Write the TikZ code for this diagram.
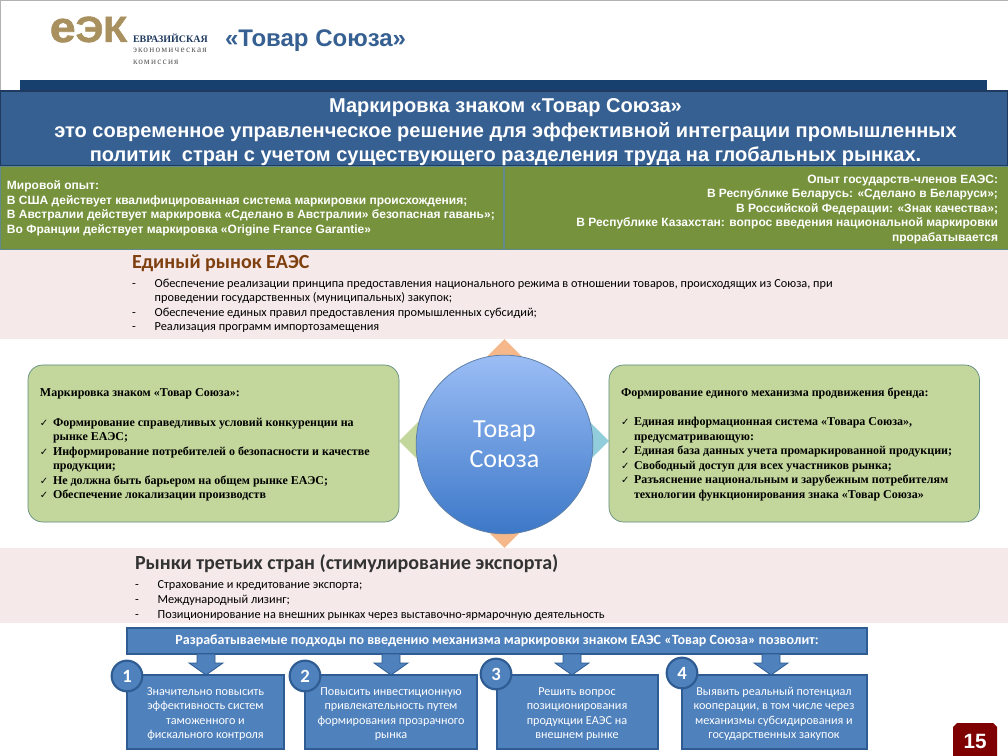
\documentclass[tikz,border=0pt]{standalone}
\usepackage{fontspec}
\setmainfont{Liberation Serif}
\newfontfamily\arialf{Liberation Sans}
\newfontfamily\calib{Carlito}
\newfontfamily\dejav{DejaVu Sans}
\newfontfamily\logof[FakeBold=1.5]{Liberation Sans}
\newfontfamily\spacedserif[LetterSpace=13]{Liberation Serif}
\usetikzlibrary{shapes.geometric}
\definecolor{bandblue}{HTML}{17406F}
\definecolor{headblue}{HTML}{366092}
\definecolor{headedge}{HTML}{1F3A5F}
\definecolor{olive}{HTML}{76923C}
\definecolor{oliveedge}{HTML}{5F8A8F}
\definecolor{pinkband}{HTML}{F5E9E9}
\definecolor{leaf}{HTML}{C3D69B}
\definecolor{leafedge}{HTML}{5F8A80}
\definecolor{midblue}{HTML}{4F81BD}
\definecolor{midedge}{HTML}{2F5C92}
\definecolor{tan}{HTML}{A8915F}
\definecolor{brownhead}{HTML}{7F4010}
\definecolor{pagered}{HTML}{7F0000}
\definecolor{peach}{HTML}{F6B88A}
\definecolor{teal}{HTML}{92CDDC}
\definecolor{circtop}{HTML}{9BBDF5}
\definecolor{circbot}{HTML}{3C78C8}
\newcommand{\ck}{\makebox[9.75pt][l]{\dejav\fontsize{7.5}{7.5}\selectfont ✓}}
\newcommand{\hg}{\hspace*{9.75pt}}
\newcommand{\dsh}{\makebox[17pt][l]{-}}
\newcommand{\blockarrow}[1]{\draw[blockarrow,shift={(#1,654)}] (-9,0) -- (9,0) -- (9,9) -- (17,9) -- (0,21) -- (-17,9) -- (-9,9) -- cycle;}
\tikzset{
  lbl/.style={inner sep=0pt,outer sep=0pt},
  head/.style={lbl,align=center,text=white,font=\arialf\bfseries\fontsize{15.03}{18.4}\selectfont},
  olivetxt/.style={lbl,text=white,font=\arialf\bfseries\fontsize{9}{10.9}\selectfont},
  olivebox/.style={draw=oliveedge,line width=.7pt,fill=olive},
  pinkbox/.style={fill=pinkband},
  rndbox/.style={draw=leafedge,line width=.5pt,fill=leaf,rounded corners=11pt},
  rndtxt/.style={lbl,align=left,anchor=north west,font=\bfseries\fontsize{9}{10.9}\selectfont,text=black},
  lst/.style={lbl,align=left,anchor=north west,font=\calib\fontsize{9.22}{10.9}\selectfont,text=black},
  dia/.style={diamond,aspect=1,inner sep=0pt,minimum size=50pt},
  bluebox/.style={draw=midedge,line width=.9pt,fill=midblue},
  bluetxt/.style={lbl,align=center,text=white,font=\calib\fontsize{9.13}{10.9}\selectfont},
  numcirc/.style={circle,draw=midedge,line width=1.6pt,fill=midblue,minimum size=23pt,inner sep=0pt,text=white,font=\calib\bfseries\fontsize{14}{14}\selectfont},
  blockarrow/.style={draw=midedge,line width=.6pt,fill=midblue},
}
\begin{document}
\begin{tikzpicture}[x=.75pt,y=-.75pt]
\useasboundingbox (0,0) rectangle (1008,756);
\fill[white] (0,0) rectangle (1008,756);
\draw[black!30,line width=.75pt] (0.5,91) -- (0.5,0.5) -- (1008,0.5);
% logo
\node[lbl,anchor=center,text=tan] (logomark) at (88.5,29.5) {\resizebox{58pt}{19pt}{\logof\bfseries\fontsize{8.8}{10}\selectfont е\fontsize{7.4}{8}\selectfont ЭК}};
\node[lbl,anchor=west,text=headedge,font=\bfseries\fontsize{7.5}{8}\selectfont] (logoa) at (133,38) {ЕВРАЗИЙСКАЯ};
\node[lbl,anchor=west,text=black!65,font=\spacedserif\fontsize{7}{8}\selectfont] (logob) at (133,50) {экономическая};
\node[lbl,anchor=west,text=black!65,font=\spacedserif\fontsize{7}{8}\selectfont] (logoc) at (133,62) {комиссия};
\node[lbl,anchor=west,text=headblue,font=\arialf\bfseries\fontsize{18}{20}\selectfont] (title) at (225,41) {«Товар Союза»};
% header
\fill[bandblue] (20,80) rectangle (987,91);
\draw[headedge,line width=.9pt,fill=headblue] (0,91) rectangle (1008,166);
\node[head] (headtxt) at (505.5,132.5) {Маркировка знаком «Товар Союза»\\это современное управленческое решение для эффективной интеграции промышленных\\политик\ \ стран с учетом существующего разделения труда на глобальных рынках.};
% olive boxes
\draw[olivebox] (0,166) rectangle (503,249);
\draw[olivebox] (504,166) rectangle (1008,249);
\node[olivetxt,anchor=north west,align=left] (oleft) at (7,181) {Мировой опыт:\\В США действует квалифицированная система маркировки происхождения;\\В Австралии действует маркировка «Сделано в Австралии» безопасная гавань»;\\Во Франции действует маркировка «Origine France Garantie»};
\node[olivetxt,anchor=north east,align=right] (oright) at (998,175) {Опыт государств-членов ЕАЭС:\\В Республике Беларусь: «Сделано в Беларуси»;\\В Российской Федерации: «Знак качества»;\\В Республике Казахстан: вопрос введения национальной маркировки\\прорабатывается};
% pink 1
\fill[pinkbox] (0,250) rectangle (1008,339);
\node[lbl,anchor=west,text=brownhead,font=\calib\bfseries\fontsize{15}{17}\selectfont] (p1head) at (132,263) {Единый рынок ЕАЭС};
\node[lst] (p1list) at (132,279) {\dsh Обеспечение реализации принципа предоставления национального режима в отношении товаров, происходящих из Союза, при\\
\hspace*{17pt}проведении государственных (муниципальных) закупок;\\
\dsh Обеспечение единых правил предоставления промышленных субсидий;\\
\dsh Реализация программ импортозамещения};
% pink 2
\fill[pinkbox] (0,548) rectangle (1008,623);
\node[lbl,anchor=west,text=black!80,font=\calib\bfseries\fontsize{15}{17}\selectfont] (p2head) at (135,564) {Рынки третьих стран (стимулирование экспорта)};
\node[lst] (p2list) at (135,581) {\dsh Страхование и кредитование экспорта;\\
\dsh Международный лизинг;\\
\dsh Позиционирование на внешних рынках через выставочно-ярмарочную деятельность};
% diamonds
\node[dia,fill=peach,minimum size=37.5pt] (dtop) at (504.5,364) {};
\node[dia,fill=peach,minimum size=37.5pt] (dbot) at (504.5,523) {};
\node[dia,fill=leaf,minimum size=37.5pt] (dleft) at (424,441) {};
\node[dia,fill=teal,minimum size=37.5pt] (dright) at (584,441) {};
% rounded boxes
\draw[rndbox] (28,365) rectangle (399,522);
\draw[rndbox] (609,365) rectangle (979.5,522);
\node[rndtxt] (rl) at (40,389) {Маркировка знаком «Товар Союза»:\\[10.9pt]
\ck Формирование справедливых условий конкуренции на\\
\hg рынке ЕАЭС;\\
\ck Информирование потребителей о безопасности и качестве\\
\hg продукции;\\
\ck Не должна быть барьером на общем рынке ЕАЭС;\\
\ck Обеспечение локализации производств};
\node[rndtxt] (rr) at (621,388) {Формирование единого механизма продвижения бренда:\\[10.9pt]
\ck Единая информационная система «Товара Союза»,\\
\hg предусматривающую:\\
\ck Единая база данных учета промаркированной продукции;\\
\ck Свободный доступ для всех участников рынка;\\
\ck Разъяснение национальным и зарубежным потребителям\\
\hg технологии функционирования знака «Товар Союза»};
% central circle
\node[ellipse,minimum width=132.5pt,minimum height=134pt,inner sep=0pt,draw=headblue!80,line width=.6pt,top color=circtop,bottom color=circbot,align=center,text=white,font=\calib\fontsize{19.5}{22.3}\selectfont] (centre) at (504.5,444.5) {Товар\\Союза};
% bottom bar
\node[bluebox,minimum width=555pt,minimum height=19.5pt,inner sep=0pt,text=white,font=\calib\bfseries\fontsize{10.5}{12}\selectfont] (bar) at (497,641) {Разрабатываемые подходы по введению механизма маркировки знаком ЕАЭС «Товар Союза» позволит:};
\blockarrow{206}
\blockarrow{391}
\blockarrow{572}
\blockarrow{771}
\draw[bluebox] (127,675) rectangle (284,749);
\draw[bluebox] (305,675) rectangle (477,749);
\draw[bluebox] (497,675) rectangle (658,749);
\draw[bluebox] (682,675) rectangle (867,749);
\node[bluetxt] (t1) at (205.5,714) {Значительно повысить\\эффективность систем\\таможенного и\\фискального контроля};
\node[bluetxt] (t2) at (391,714) {Повысить инвестиционную\\привлекательность путем\\формирования прозрачного\\рынка};
\node[bluetxt] (t3) at (577,714) {Решить вопрос\\позиционирования\\продукции ЕАЭС на\\внешнем рынке};
\node[bluetxt] (t4) at (774,714) {Выявить реальный потенциал\\кооперации, в том числе через\\механизмы субсидирования и\\государственных закупок};
\node[numcirc] (n1) at (127,676) {1};
\node[numcirc] (n2) at (305,676) {2};
\node[numcirc] (n3) at (496,674) {3};
\node[numcirc] (n4) at (682,673) {4};
% page number
\fill[pagered] (953,756) -- (953,727) -- (957,723) -- (993,723) -- (997,727) -- (997,756) -- cycle;
\node[lbl,text=white,font=\arialf\bfseries\fontsize{15.5}{16}\selectfont] (pagenum) at (975,741) {15};
\end{tikzpicture}
\end{document}
